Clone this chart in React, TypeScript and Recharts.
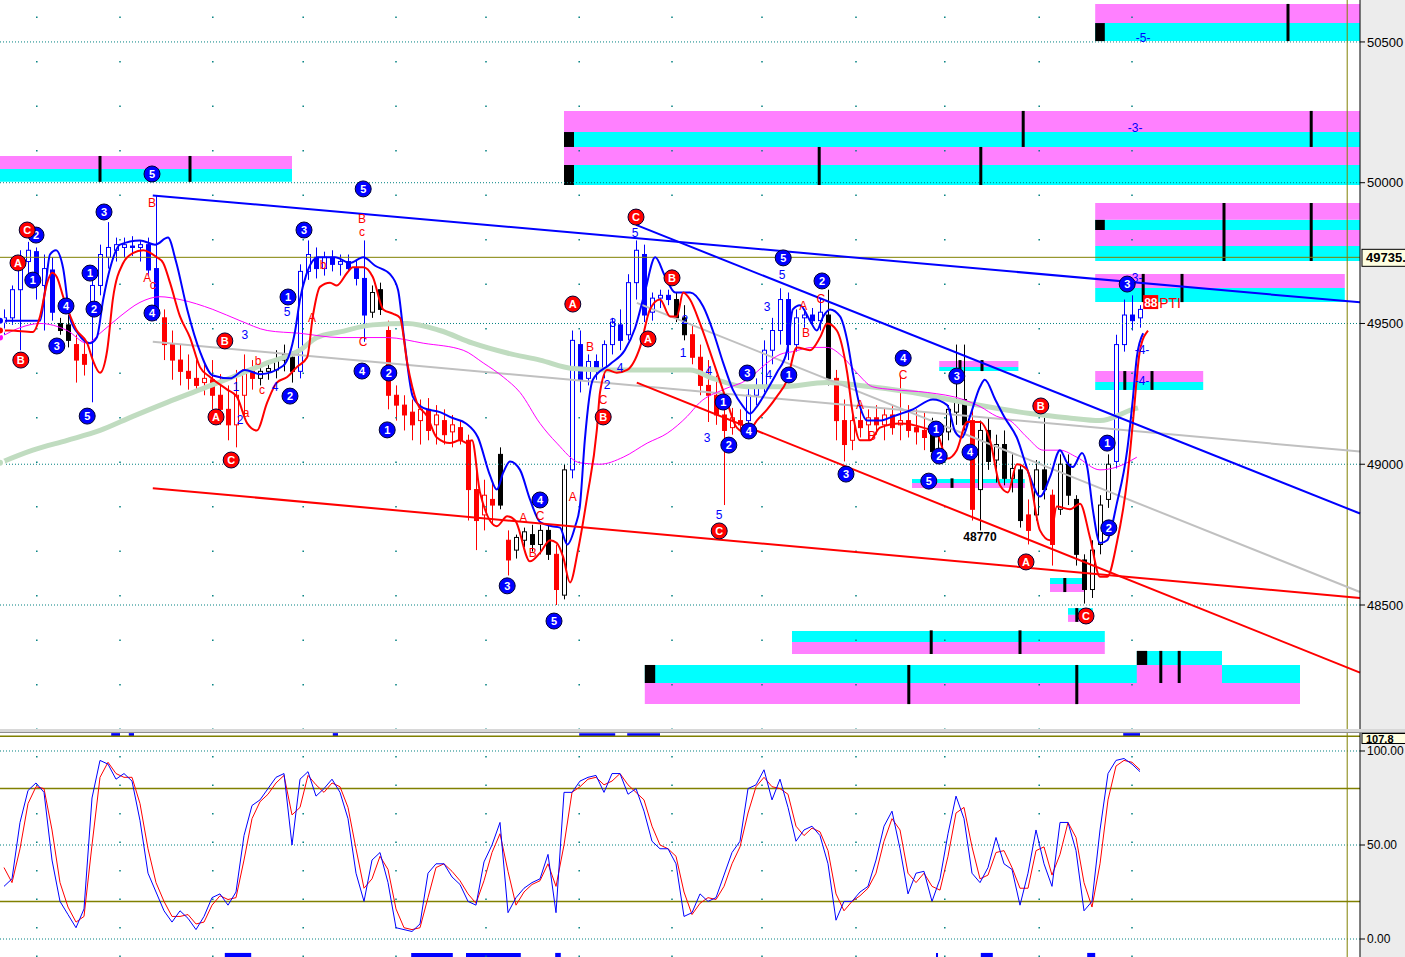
import React from "react";
import {
  ComposedChart,
  Bar,
  Line,
  Scatter,
  XAxis,
  YAxis,
  ReferenceLine,
  ReferenceArea,
} from "recharts";

// price bars, one per session slot
const opens = [
  49505, 49520, 49620, 49720, 49755, 49635, 49690, 49500, 49495, 49425,
  49390, 49550, 49635, 49735, 49760, 49770, 49775, 49770, 49780, 49695,
  49520, 49425, 49370, 49330, 49305, 49290, 49300, 49245, 49195, 49140,
  49245, 49330, 49305, 49330, 49335, 49370, 49380, 49330, 49685, 49735,
  49695, 49735, 49710, 49720, 49695, 49660, 49540, 49620, 49475, 49245,
  49210, 49185, 49155, 49195, 49140, 49155, 49115, 49130, 49085, 48910,
  48820, 48875, 49035, 48730, 48695, 48730, 48750, 48715, 48765, 48680,
  48535, 48980, 49425, 49305, 49365, 49340, 49425, 49495, 49460, 49645,
  49745, 49540, 49590, 49600, 49585, 49520, 49460, 49380, 49280, 49245,
  49175, 49130, 49155, 49155, 49245, 49280, 49405, 49475, 49585, 49425,
  49520, 49530, 49510, 49530, 49305, 49155, 49085, 49155, 49140, 49165,
  49140, 49175, 49140, 49155, 49130, 49120, 49140, 49050, 49115, 49185,
  49230, 49155, 48910, 49120, 49015, 49070, 48950, 48980, 48820, 48820,
  48980, 48890, 48840, 49000, 48875, 48660, 48555, 48715, 48875, 49010,
  49425, 49530, 49520,
];
const highs = [
  49550, 49635, 49760, 49790, 49770, 49745, 49735, 49520, 49530, 49460,
  49440, 49655, 49780, 49860, 49805, 49805, 49810, 49795, 49805, 49955,
  49550, 49475, 49425, 49390, 49370, 49355, 49370, 49320, 49280, 49335,
  49390, 49370, 49355, 49370, 49405, 49425, 49400, 49710, 49795, 49770,
  49755, 49760, 49745, 49745, 49725, 49795, 49635, 49645, 49510, 49280,
  49245, 49230, 49230, 49235, 49210, 49195, 49175, 49155, 49105, 48980,
  48945, 48935, 49060, 48765, 48750, 48775, 48785, 48785, 48785, 48715,
  49000, 49475, 49475, 49390, 49390, 49440, 49520, 49550, 49675, 49795,
  49780, 49610, 49620, 49620, 49610, 49565, 49495, 49425, 49370, 49315,
  49210, 49200, 49195, 49280, 49305, 49440, 49520, 49625, 49610, 49550,
  49550, 49555, 49590, 49620, 49335, 49230, 49195, 49210, 49195, 49210,
  49200, 49210, 49315, 49210, 49195, 49185, 49165, 49120, 49210, 49425,
  49425, 49195, 49155, 49165, 49105, 49120, 49035, 49000, 48875, 49015,
  49165, 48910, 49035, 49035, 48890, 48680, 48730, 48890, 49035, 49460,
  49585, 49600, 49565,
];
const lows = [
  49460, 49495, 49405, 49635, 49585, 49475, 49510, 49460, 49415, 49290,
  49315, 49220, 49600, 49695, 49720, 49735, 49740, 49720, 49670, 49510,
  49370, 49300, 49280, 49265, 49255, 49245, 49195, 49140, 49085, 49060,
  49175, 49265, 49280, 49300, 49305, 49330, 49290, 49305, 49655, 49660,
  49670, 49685, 49670, 49685, 49635, 49435, 49520, 49530, 49195, 49155,
  49120, 49085, 49070, 49085, 49070, 49070, 49060, 49070, 48800, 48695,
  48765, 48785, 48840, 48605, 48665, 48705, 48690, 48680, 48660, 48500,
  48520, 48950, 49255, 49280, 49300, 49305, 49390, 49405, 49440, 49585,
  49505, 49510, 49555, 49565, 49505, 49440, 49355, 49245, 49150, 49140,
  48855, 49105, 49115, 49130, 49210, 49255, 49355, 49425, 49370, 49400,
  49485, 49495, 49475, 49280, 49085, 49010, 49050, 49095, 49085, 49105,
  49085, 49105, 49085, 49095, 49070, 49050, 49020, 49010, 49085, 49140,
  49120, 48800, 48765, 48980, 48935, 48925, 48900, 48775, 48715, 48800,
  48875, 48640, 48820, 48855, 48640, 48505, 48525, 48680, 48845, 48985,
  49400, 49475, 49485,
];
const closes = [
  49520, 49620, 49720, 49760, 49635, 49695, 49540, 49475, 49440, 49370,
  49355, 49635, 49745, 49770, 49780, 49780, 49770, 49780, 49690, 49530,
  49425, 49370, 49330, 49305, 49280, 49305, 49245, 49195, 49140, 49245,
  49335, 49305, 49330, 49340, 49370, 49390, 49330, 49685, 49745, 49695,
  49735, 49710, 49720, 49695, 49660, 49530, 49610, 49550, 49245, 49210,
  49175, 49140, 49195, 49120, 49175, 49105, 49140, 49085, 48910, 48800,
  48890, 48855, 48855, 48660, 48740, 48760, 48715, 48765, 48680, 48555,
  48980, 49440, 49300, 49365, 49335, 49425, 49505, 49440, 49645, 49760,
  49530, 49590, 49600, 49585, 49520, 49460, 49380, 49280, 49245, 49175,
  49120, 49165, 49140, 49245, 49280, 49405, 49475, 49585, 49425, 49520,
  49530, 49510, 49540, 49305, 49155, 49070, 49155, 49130, 49165, 49140,
  49175, 49130, 49155, 49120, 49115, 49095, 49045, 49105, 49195, 49230,
  49140, 48840, 49120, 49010, 49070, 48950, 48985, 48800, 48765, 48980,
  48910, 48715, 49000, 48890, 48680, 48555, 48695, 48855, 49000, 49425,
  49530, 49510, 49550,
];
// wave colouring of the bars: b = up wave, r = down wave, k = neutral
const barColors = [
  "bbbbbbb", "kk", "rr", "bbbbbbbbb", "rrrrrrrrrrrr", "kkkkk", "bbbbbbbbb",
  "kk", "rrrrrrrrrrrrrr", "k", "r", "kkkkk", "r", "k", "bbbbbbbbbbbbb", "kk",
  "rrrrrrr", "bbbbbbbbbb", "k", "rrrrrrrrrrrr", "kkkkk", "r", "kkkkkk", "r",
  "kk", "r", "kkkkkkk", "bbbb",
].join("").split("");

// indicator curves [slot, price]
const upperBand: [number, number][] = [
  [0, 49510], [5, 49510], [5.6, 49610], [6.25, 49745], [7, 49760], [7.9, 49695],
  [8.75, 49520], [9.75, 49465], [11.25, 49430], [12.1, 49450], [12.9, 49585],
  [13.75, 49695], [15, 49780], [17.5, 49795], [19.4, 49780], [21, 49805],
  [22, 49720], [23.4, 49550], [25, 49400], [26.6, 49315], [28.75, 49305],
  [30.6, 49335], [32.5, 49320], [35.4, 49350], [36.9, 49475], [37.5, 49585],
  [38.25, 49670], [39.75, 49735], [41.9, 49735], [43.75, 49715], [45.4, 49735],
  [46.9, 49705], [48.75, 49675], [49.75, 49620], [50.5, 49450], [51.6, 49240],
  [52.9, 49200], [55, 49185], [56.5, 49165], [58.25, 49145], [59.75, 49095],
  [61.25, 48960], [62.1, 48910], [62.9, 48970], [63.75, 49010], [65, 48980],
  [66.25, 48875], [67.5, 48795], [69, 48780], [70, 48775], [70.9, 48715],
  [71.9, 48780], [72.5, 48855], [73.1, 49085], [74.1, 49300], [76.25, 49355],
  [78.1, 49405], [79.4, 49485], [80.6, 49610], [81.9, 49735], [83.1, 49670],
  [84.4, 49610], [86.25, 49610], [87.9, 49560], [89.1, 49475], [90.4, 49360],
  [91.6, 49265], [92.9, 49205], [93.75, 49180], [94.6, 49205], [95.9, 49265],
  [97.1, 49325], [98.4, 49405], [99.1, 49550], [100, 49565], [101.25, 49510],
  [102.1, 49475], [102.9, 49525], [103.75, 49550], [105, 49525], [105.9, 49440],
  [106.6, 49325], [107.5, 49205], [108.4, 49155], [110, 49155], [111.6, 49170],
  [114.1, 49195], [116.6, 49230], [118.4, 49210], [119.4, 49115], [120.25, 49095],
  [121.25, 49170], [122.5, 49275], [123.1, 49300], [124.4, 49230], [125.6, 49165],
  [127.1, 49095], [128.75, 48955], [130, 48885], [131.25, 48955], [132.5, 49050],
  [133.4, 49005], [134.1, 48990], [135.25, 49040], [135.9, 48990], [136.6, 48840],
  [137.5, 48720], [138.4, 48730], [139.6, 48860], [140.9, 49050], [141.6, 49230],
  [142.1, 49380], [142.9, 49465],
];
const lowerBand: [number, number][] = [
  [0, 49475], [1.25, 49475], [4.1, 49470], [5, 49525], [5.9, 49645], [6.5, 49680],
  [7.1, 49665], [7.9, 49595], [9.6, 49475], [10.9, 49430], [11.6, 49370],
  [12.5, 49325], [13.4, 49405], [14.1, 49585], [15.4, 49715], [16.6, 49750],
  [17.9, 49760], [19.6, 49735], [20.4, 49715], [21.25, 49645], [22.5, 49525],
  [23.75, 49450], [25, 49345], [26.25, 49310], [28.4, 49265], [29.6, 49240],
  [30.9, 49145], [32.1, 49120], [33.4, 49220], [34.6, 49290], [35.9, 49310],
  [37.1, 49345], [38.4, 49380], [39.1, 49525], [40, 49630], [41.25, 49645],
  [42.1, 49635], [43.4, 49680], [44.1, 49700], [45.4, 49700], [46.6, 49665],
  [47.9, 49550], [49.1, 49535], [50, 49520], [50.9, 49360], [52.1, 49220],
  [53.4, 49170], [54.6, 49095], [56.25, 49075], [57.5, 49085], [58.4, 49075],
  [59, 49085], [60, 48900], [62.1, 48780], [63.4, 48815], [64.4, 48800],
  [66.25, 48655], [67.5, 48685], [68.75, 48730], [69.6, 48720], [70.4, 48670],
  [71.25, 48580], [72.25, 48695], [73.4, 48885], [74.6, 49120], [75, 49255],
  [75.9, 49335], [77.1, 49325], [78.4, 49335], [80, 49415], [81.25, 49550],
  [82.5, 49585], [83.75, 49525], [84.6, 49525], [85.4, 49610], [86.25, 49585],
  [87.5, 49500], [89.1, 49370], [90.9, 49220], [92.1, 49130], [93.4, 49110],
  [94.6, 49155], [95.9, 49195], [97.1, 49240], [98.4, 49300], [99.6, 49415],
  [101.25, 49405], [102.5, 49450], [103.4, 49500], [104.6, 49475], [105.9, 49325],
  [106.6, 49180], [107.5, 49085], [108.75, 49085], [110, 49130], [112.5, 49145],
  [115.4, 49130], [117.1, 49110], [118.4, 49020], [119.6, 49050], [120.9, 49150],
  [122.5, 49150], [123.75, 49085], [125, 48925], [126, 48900], [127.1, 49000],
  [128.4, 48980], [130, 48765], [131.25, 48730], [132.1, 48850], [133.75, 48840],
  [135, 48860], [136.25, 48740], [137.5, 48600], [138.4, 48600], [139.6, 48720],
  [140.9, 48945], [141.6, 49145], [142.5, 49405], [143.5, 49475],
];
const slowAverage: [number, number][] = [
  [0, 49450], [2.5, 49485], [5, 49500], [8.4, 49475], [10.9, 49430], [12.5, 49465],
  [15, 49525], [17.5, 49575], [20, 49595], [22.5, 49585], [26.6, 49550],
  [30, 49510], [33.4, 49475], [37.5, 49465], [42.5, 49450], [48.4, 49450],
  [52.9, 49430], [57.9, 49405], [60.4, 49360], [62.9, 49310], [65, 49255],
  [67.5, 49145], [69.6, 49075], [72.5, 49005], [75, 49000], [77.9, 49025],
  [80.9, 49075], [83.4, 49110], [85.9, 49170], [87.5, 49220], [90.4, 49265],
  [93.4, 49300], [95.9, 49360], [97.5, 49390], [99.1, 49400], [101.6, 49415],
  [103.4, 49415], [105.4, 49380], [107.1, 49325], [109.1, 49275], [111.6, 49265],
  [115.9, 49255], [120.4, 49230], [122.5, 49205], [124.6, 49170], [126.25, 49155],
  [128.4, 49095], [130.4, 49050], [132.5, 49050], [134.6, 49025], [137.5, 48980],
  [139.6, 48990], [142.1, 49025],
];
const longAverage: [number, number][] = [
  [0, 49005], [4.1, 49050], [8.4, 49085], [12.5, 49120], [16.6, 49170],
  [20.9, 49220], [25, 49265], [29.1, 49310], [33.4, 49360], [37.5, 49405],
  [39.6, 49450], [42.5, 49470], [46.6, 49495], [50.9, 49500], [55, 49475],
  [59.1, 49430], [63.4, 49395], [67.5, 49370], [71.6, 49340], [75.9, 49335],
  [80, 49335], [86.25, 49335], [89.1, 49305], [93.4, 49275], [97.5, 49275],
  [103.4, 49290], [107.5, 49280], [114.1, 49255], [120.4, 49220], [128.75, 49180],
  [133.4, 49165], [137.5, 49155], [141.6, 49195], [142.25, 49200],
];

// trend channels [slot1, price1, slot2, price2]
const grayTrends = [[19.1, 49435, 170, 49045], [79.6, 49573, 170, 48546]];
const blueTrends = [[19.1, 49955, 170, 49575], [79.5, 49850, 170, 48825]];
const redTrends = [[19.1, 48915, 170, 48525], [79.6, 49290, 170, 48260]];

// target zones [slot1, slot2, priceLow, priceHigh]
const cyanZones = [
  [0, 36.5, 50003, 50049], [136.9, 170, 50503, 50567], [70.5, 170, 50127, 50180],
  [70.5, 170, 49992, 50063], [136.9, 170, 49832, 49868], [136.9, 170, 49722, 49775],
  [136.9, 168.1, 49576, 49626], [136.9, 150.4, 49264, 49292], [117.4, 127.3, 49331, 49345],
  [114, 128.1, 48933, 48948], [131.25, 135.5, 48575, 48596], [133.5, 136.6, 48465, 48489],
  [99, 138.1, 48369, 48408], [80.6, 162.5, 48223, 48287], [142.1, 152.75, 48287, 48337],
];
const pinkZones = [
  [0, 36.5, 50049, 50095], [136.9, 170, 50567, 50635], [70.5, 170, 50180, 50255],
  [70.5, 170, 50063, 50127], [136.9, 170, 49868, 49928], [136.9, 170, 49775, 49832],
  [136.9, 168.1, 49626, 49676], [136.9, 150.4, 49292, 49331], [117.4, 127.3, 49345, 49367],
  [114, 128.1, 48916, 48933], [131.25, 135.5, 48546, 48575], [133.5, 136.6, 48440, 48465],
  [99, 138.1, 48326, 48369], [80.6, 162.5, 48148, 48223], [142.1, 152.75, 48223, 48287],
];
const zoneStarts = [
  [136.9, 138.1, 50503, 50567], [70.5, 71.75, 50127, 50180], [70.5, 71.75, 49992, 50063],
  [136.9, 138.1, 49832, 49868], [80.6, 81.9, 48223, 48287], [142.1, 143.4, 48287, 48337],
];
// [slot, priceLow, priceHigh]
const zoneTicks = [
  [12.5, 50003, 50095], [23.75, 50003, 50095], [161, 50503, 50635],
  [127.9, 50127, 50255], [163.9, 50127, 50255], [102.4, 49992, 50127], [122.6, 49992, 50127],
  [153, 49722, 49928], [163.9, 49722, 49928], [142.9, 49576, 49676], [147.75, 49576, 49676],
  [140.6, 49264, 49331], [144, 49264, 49331], [120, 49331, 49370], [122.75, 49331, 49370],
  [119, 48916, 48950], [133.1, 48546, 48596], [134.6, 48440, 48489],
  [116.4, 48326, 48410], [127.5, 48326, 48410], [113.6, 48148, 48287], [134.6, 48148, 48287],
  [145.1, 48223, 48337], [147.4, 48223, 48337],
];

// wave counts [slot, price, text]
const blueRings: [number, number, string][] = [
  [19, 50031, "5"], [45.4, 49978, "5"], [4.5, 49814, "2"], [13, 49896, "3"], [4.1, 49654, "1"],
  [11.25, 49679, "1"], [8.25, 49562, "4"], [7.1, 49420, "3"], [11.75, 49551, "2"],
  [10.9, 49171, "5"], [19, 49537, "4"], [38, 49832, "3"], [36, 49594, "1"], [36.25, 49242, "2"],
  [45.25, 49331, "4"], [48.6, 49324, "2"], [48.4, 49122, "1"], [63.4, 48568, "3"],
  [67.5, 48873, "4"], [69.25, 48443, "5"], [97.9, 49733, "5"], [102.75, 49651, "2"],
  [112.9, 49377, "4"], [90.4, 49221, "1"], [93.4, 49324, "3"], [98.6, 49317, "1"],
  [93.6, 49118, "4"], [91.1, 49068, "2"], [105.75, 48965, "3"], [119.6, 49313, "3"],
  [117, 49125, "1"], [117.4, 49029, "2"], [121.25, 49043, "4"], [116.1, 48940, "5"],
  [138.4, 49075, "1"], [138.6, 48774, "2"], [140.9, 49640, "3"],
];
const redRings: [number, number, string][] = [
  [3.4, 49832, "C"], [2.25, 49715, "A"], [2.6, 49370, "B"], [28.1, 49438, "B"],
  [27, 49168, "A"], [28.9, 49015, "C"], [79.5, 49878, "C"], [84, 49662, "B"],
  [71.6, 49569, "A"], [81, 49445, "A"], [75.4, 49168, "B"], [89.9, 48763, "C"],
  [130.1, 49207, "B"], [128.25, 48653, "A"], [135.75, 48461, "C"],
];
const blueNotes: [number, number, string][] = [
  [30.6, 49459, "3"], [29.5, 49274, "1"], [34.4, 49274, "4"], [30, 49157, "2"],
  [35.9, 49541, "5"], [76.6, 49502, "3"], [77.5, 49342, "4"], [75.9, 49281, "2"],
  [79.4, 49821, "5"], [85.6, 49512, "2"], [85.4, 49395, "1"], [97.75, 49672, "5"],
  [95.9, 49559, "3"], [88.6, 49331, "4"], [88.4, 49093, "3"], [89.9, 48820, "5"],
  [96.1, 49317, "4"], [141.9, 49662, "-3-"], [142.75, 49406, "-4-"],
  [142.75, 49296, "-4-"], [142.9, 50514, "-5-"], [141.9, 50194, "-3-"],
];
const redNotes: [number, number, string][] = [
  [19, 49928, "B"], [45.25, 49871, "B"], [45.25, 49825, "c"], [45.4, 49434, "C"],
  [18.4, 49662, "A"], [19.1, 49637, "c"], [40.4, 49708, "b"], [39, 49519, "A"],
  [32.25, 49367, "b"], [32.75, 49264, "c"], [30.75, 49182, "a"], [73.75, 49417, "B"],
  [75.4, 49228, "C"], [71.6, 48884, "A"], [65.4, 48809, "A"], [67.5, 48816, "C"],
  [66.6, 48685, "B"], [100.4, 49562, "A"], [102.6, 49587, "C"], [100.75, 49466, "B"],
  [112.9, 49317, "C"], [107.5, 49210, "A"], [109, 49100, "B"],
];
const priceNotes: [number, number, string][] = [[122.5, 48742, "48770"]];
const pendingTags: [number, number, string][] = [[142.9, 49576, "PTI"]];

// stochastic oscillator per bar
const stochK = [
  28, 32, 62, 79, 83, 78, 42, 20, 13, 6, 16, 75, 95, 93, 85, 88, 84, 63, 35, 25,
  15, 9, 15, 11, 5, 12, 22, 24, 18, 25, 55, 71, 74, 80, 86, 88, 50, 85, 89, 76,
  80, 85, 78, 64, 35, 20, 42, 46, 30, 6, 5, 4, 8, 35, 40, 40, 33, 29, 20, 18,
  41, 50, 62, 14, 22, 27, 30, 32, 45, 14, 78, 78, 84, 86, 87, 78, 88, 88, 77, 80,
  68, 52, 48, 48, 40, 12, 14, 24, 20, 22, 34, 46, 52, 80, 82, 90, 74, 85, 70, 52,
  58, 60, 55, 40, 10, 20, 20, 25, 28, 42, 60, 68, 48, 24, 35, 36, 20, 32, 56, 76,
  64, 35, 30, 38, 54, 40, 37, 18, 35, 58, 40, 28, 62, 62, 47, 15, 20, 58, 88, 95,
  96, 93, 89,
];
const stochD = [
  38, 30, 48, 72, 81, 80, 58, 30, 17, 9, 12, 50, 86, 94, 88, 86, 86, 72, 48, 30,
  20, 12, 12, 13, 8, 9, 18, 23, 21, 22, 42, 64, 73, 77, 83, 87, 66, 70, 87, 82,
  78, 83, 81, 70, 48, 27, 32, 44, 37, 16, 6, 5, 6, 22, 38, 40, 36, 31, 24, 19,
  31, 46, 56, 36, 18, 25, 29, 31, 40, 28, 50, 78, 81, 85, 86, 82, 84, 88, 82, 78,
  74, 60, 50, 48, 44, 25, 13, 19, 22, 21, 28, 40, 49, 67, 81, 86, 81, 80, 77, 60,
  55, 59, 57, 47, 24, 15, 20, 23, 27, 35, 52, 64, 58, 35, 30, 35, 28, 26, 44, 67,
  70, 49, 32, 34, 46, 47, 38, 27, 27, 47, 49, 34, 45, 62, 54, 30, 17, 40, 74, 92,
  95, 94, 90,
];
// oscillator signal strips [slot1, slot2]
const topSignals = [[13.9, 15], [16.1, 16.75], [41.6, 42.25], [72.4, 76.9], [78.4, 82.5], [140.4, 142.5]];
const bottomSignals = [
  [28.1, 31.4], [51.4, 56.6], [58.25, 65.1], [69.4, 70.1], [117, 117.25], [122.6, 124.1], [135.9, 136.9],
];

const priceTicks = [48500, 49000, 49500, 50000, 50500];
const oscTicks = [0, 50, 100];
const dateGridX = [4.6, 15, 26.6, 37.9, 49.5, 60.75, 72.4, 84, 95.25, 107, 118.1, 129.9, 141.5];
const lastPrice = 49735;
const oscCeiling = 107.8;
const cursorSlot = 168.4;

const candles = opens.map((o, i) => ({
  x: i + 0.5,
  o,
  h: highs[i],
  l: lows[i],
  c: closes[i],
  col: barColors[i],
}));
const toPts = (arr: [number, number][]) => arr.map(([x, v]) => ({ x, v }));
const marks = [
  ...blueRings.map(([x, v, t]) => ({ x, v, t, kind: "bc" })),
  ...redRings.map(([x, v, t]) => ({ x, v, t, kind: "rc" })),
  ...blueNotes.map(([x, v, t]) => ({ x, v, t, kind: "bt" })),
  ...redNotes.map(([x, v, t]) => ({ x, v, t, kind: "rt" })),
  ...priceNotes.map(([x, v, t]) => ({ x, v, t, kind: "kt" })),
  ...pendingTags.map(([x, v, t]) => ({ x, v, t, kind: "tag" })),
];
const stoch = stochK.map((k, i) => ({ x: i + 0.5, k, d: stochD[i] }));

const FONT = "'Liberation Sans', Arial, sans-serif";
const barStroke: Record<string, string> = { r: "#ff0000", b: "#0000ff", k: "#000000" };

function Candle(props: any) {
  const { x, y, width, height, payload } = props;
  if (x == null || y == null || !payload) return null;
  const { o, h, l, c, col } = payload;
  const top = Math.min(y, y + height);
  const span = Math.abs(height);
  const k = span / (h - l);
  const yo = top + (h - o) * k;
  const yc = top + (h - c) * k;
  const cx = Math.round(x + width / 2) + 0.5;
  const stroke = barStroke[col] || "#000";
  const fill = c >= o ? "#ffffff" : stroke;
  return (
    <g>
      <line x1={cx} x2={cx} y1={top} y2={top + span} stroke={stroke} strokeWidth={1} />
      <rect
        x={cx - 2}
        y={Math.min(yo, yc)}
        width={4}
        height={Math.max(1, Math.abs(yc - yo))}
        fill={fill}
        stroke={stroke}
        strokeWidth={1}
      />
    </g>
  );
}

function WaveMark(props: any) {
  const { cx, cy, payload } = props;
  if (cx == null || cy == null || !payload) return null;
  const { t, kind } = payload;
  if (kind === "bc" || kind === "rc") {
    return (
      <g>
        <circle cx={cx} cy={cy} r={8} fill={kind === "bc" ? "#0000ff" : "#ff0000"} stroke="#000033" strokeWidth={1} />
        <text x={cx} y={cy + 4} textAnchor="middle" fill="#ffffff" fontSize={11} fontWeight="bold">
          {t}
        </text>
      </g>
    );
  }
  if (kind === "tag") {
    return (
      <g>
        <rect x={cx} y={cy - 7} width={15} height={14} fill="#ff0000" />
        <text x={cx + 1} y={cy + 5} fill="#ffffff" fontSize={12} fontWeight="bold">88</text>
        <text x={cx + 16} y={cy + 6} fill="#ff0000" fontSize={14}>{t}</text>
      </g>
    );
  }
  const fill = kind === "bt" ? "#0000ff" : kind === "rt" ? "#ff0000" : "#000000";
  return (
    <text x={cx} y={cy + 4} textAnchor="middle" fill={fill} fontSize={12} fontWeight={kind === "kt" ? "bold" : "normal"}>
      {t}
    </text>
  );
}

function AxisTag(props: any) {
  const { viewBox, tag, top } = props;
  if (!viewBox) return null;
  const x = viewBox.x + viewBox.width + 2;
  const pinned = top != null;
  const y0 = pinned ? top : viewBox.y - 8;
  return (
    <g>
      <rect x={x} y={y0} width={44} height={pinned ? 10 : 17} fill="#ffffe1" stroke="#000" strokeWidth={1} />
      <text x={x + 4} y={y0 + (pinned ? 9.5 : 13)} fontSize={pinned ? 11 : 13} fontWeight="bold" fill="#000">
        {tag}
      </text>
    </g>
  );
}

export default function App() {
  return (
    <div
      style={{
        position: "absolute",
        left: 0,
        top: 0,
        width: 1405,
        height: 957,
        background: "#ffffff",
        overflow: "hidden",
        fontFamily: FONT,
      }}
    >
      <div style={{ position: "absolute", left: 1360, top: 0, width: 45, height: 957, background: "#ececec" }} />
      <div style={{ position: "absolute", left: 0, top: 0 }}>
        <ComposedChart width={1405} height={730} data={candles} margin={{ top: 0, right: 0, bottom: 0, left: 0 }}>
          <XAxis dataKey="x" type="number" domain={[0, 170]} hide allowDataOverflow />
          <YAxis
            orientation="right"
            width={45}
            domain={[48056, 50649]}
            ticks={priceTicks}
            interval={0}
            allowDataOverflow
            tick={{ fill: "#000", fontSize: 13 }}
            tickLine={{ stroke: "#000" }}
            axisLine={{ stroke: "#000" }}
            tickSize={5}
            tickMargin={2}
          />
          {priceTicks.map((v) => (
            <ReferenceLine key={"h" + v} y={v} stroke="#008080" strokeDasharray="1 2" />
          ))}
          {dateGridX.map((x) => (
            <ReferenceLine key={"g" + x} x={x} stroke="#008080" strokeWidth={1.5} strokeDasharray="1.5 43" />
          ))}
          {cyanZones.map(([x1, x2, y1, y2], i) => (
            <ReferenceArea key={"c" + i} x1={x1} x2={x2} y1={y1} y2={y2} fill="#00ffff" fillOpacity={1} stroke="none" ifOverflow="visible" />
          ))}
          {pinkZones.map(([x1, x2, y1, y2], i) => (
            <ReferenceArea key={"p" + i} x1={x1} x2={x2} y1={y1} y2={y2} fill="#ff80ff" fillOpacity={1} stroke="none" ifOverflow="visible" />
          ))}
          {zoneStarts.map(([x1, x2, y1, y2], i) => (
            <ReferenceArea key={"s" + i} x1={x1} x2={x2} y1={y1} y2={y2} fill="#000000" fillOpacity={1} stroke="none" ifOverflow="visible" />
          ))}
          {zoneTicks.map(([x, y1, y2], i) => (
            <ReferenceLine key={"t" + i} segment={[{ x, y: y1 }, { x, y: y2 }]} stroke="#000" strokeWidth={3} ifOverflow="visible" />
          ))}
          <ReferenceLine y={lastPrice} stroke="#808000" strokeWidth={1} label={<AxisTag tag="49735." />} />
          <ReferenceLine x={cursorSlot} stroke="#808000" strokeWidth={1} />
          <Line data={toPts(longAverage)} dataKey="v" type="monotone" stroke="#c0dcc0" strokeWidth={5} dot={false} isAnimationActive={false} />
          {grayTrends.map(([x1, y1, x2, y2], i) => (
            <ReferenceLine key={"gt" + i} segment={[{ x: x1, y: y1 }, { x: x2, y: y2 }]} stroke="#c0c0c0" strokeWidth={2} ifOverflow="visible" />
          ))}
          <Line data={toPts(slowAverage)} dataKey="v" type="monotone" stroke="#ff00ff" strokeWidth={1} dot={false} isAnimationActive={false} />
          <Bar dataKey={(d: any) => [d.l, d.h]} shape={Candle} barSize={5} isAnimationActive={false} />
          <Line data={toPts(upperBand)} dataKey="v" type="monotone" stroke="#0000ff" strokeWidth={2} dot={false} isAnimationActive={false} />
          <Line data={toPts(lowerBand)} dataKey="v" type="monotone" stroke="#ff0000" strokeWidth={2} dot={false} isAnimationActive={false} />
          {blueTrends.map(([x1, y1, x2, y2], i) => (
            <ReferenceLine key={"bt" + i} segment={[{ x: x1, y: y1 }, { x: x2, y: y2 }]} stroke="#0000ff" strokeWidth={2} ifOverflow="visible" />
          ))}
          {redTrends.map(([x1, y1, x2, y2], i) => (
            <ReferenceLine key={"rt" + i} segment={[{ x: x1, y: y1 }, { x: x2, y: y2 }]} stroke="#ff0000" strokeWidth={2} ifOverflow="visible" />
          ))}
          <Scatter data={marks} dataKey="v" shape={WaveMark} isAnimationActive={false} />
        </ComposedChart>
      </div>
      <div
        style={{
          position: "absolute",
          left: 0,
          top: 729,
          width: 1405,
          height: 3,
          background: "#d8d8d8",
          borderBottom: "1px solid #909090",
        }}
      />
      <div style={{ position: "absolute", left: 0, top: 733 }}>
        <ComposedChart width={1405} height={224} data={stoch} margin={{ top: 0, right: 0, bottom: 0, left: 0 }}>
          <XAxis dataKey="x" type="number" domain={[0, 170]} hide allowDataOverflow />
          <YAxis
            orientation="right"
            width={45}
            domain={[-9.57, 109.57]}
            ticks={oscTicks}
            interval={0}
            allowDataOverflow
            tickFormatter={(v: number) => v.toFixed(2)}
            tick={{ fill: "#000", fontSize: 12 }}
            tickLine={{ stroke: "#000" }}
            axisLine={{ stroke: "#000" }}
            tickSize={5}
            tickMargin={2}
          />
          {oscTicks.map((v) => (
            <ReferenceLine key={"oh" + v} y={v} stroke="#008080" strokeDasharray="1 2" />
          ))}
          {dateGridX.map((x) => (
            <ReferenceLine key={"og" + x} x={x} stroke="#008080" strokeWidth={1.5} strokeDasharray="1.5 27" />
          ))}
          <ReferenceLine y={80} stroke="#808000" strokeWidth={1.5} />
          <ReferenceLine y={20} stroke="#808000" strokeWidth={1.5} />
          <ReferenceLine y={oscCeiling} stroke="#808000" strokeWidth={1.5} label={<AxisTag tag="107.8" top={0.5} />} />
          <ReferenceLine x={cursorSlot} stroke="#808000" strokeWidth={1} />
          {topSignals.map(([x1, x2], i) => (
            <ReferenceArea key={"ts" + i} x1={x1} x2={x2} y1={107.6} y2={109.5} fill="#0000ff" fillOpacity={1} stroke="none" ifOverflow="visible" />
          ))}
          {bottomSignals.map(([x1, x2], i) => (
            <ReferenceArea key={"bs" + i} x1={x1} x2={x2} y1={-9.57} y2={-7.4} fill="#0000ff" fillOpacity={1} stroke="none" ifOverflow="visible" />
          ))}
          <Line dataKey="d" type="linear" stroke="#ff0000" strokeWidth={1} dot={false} isAnimationActive={false} />
          <Line dataKey="k" type="linear" stroke="#0000ff" strokeWidth={1} dot={false} isAnimationActive={false} />
        </ComposedChart>
      </div>
    </div>
  );
}
